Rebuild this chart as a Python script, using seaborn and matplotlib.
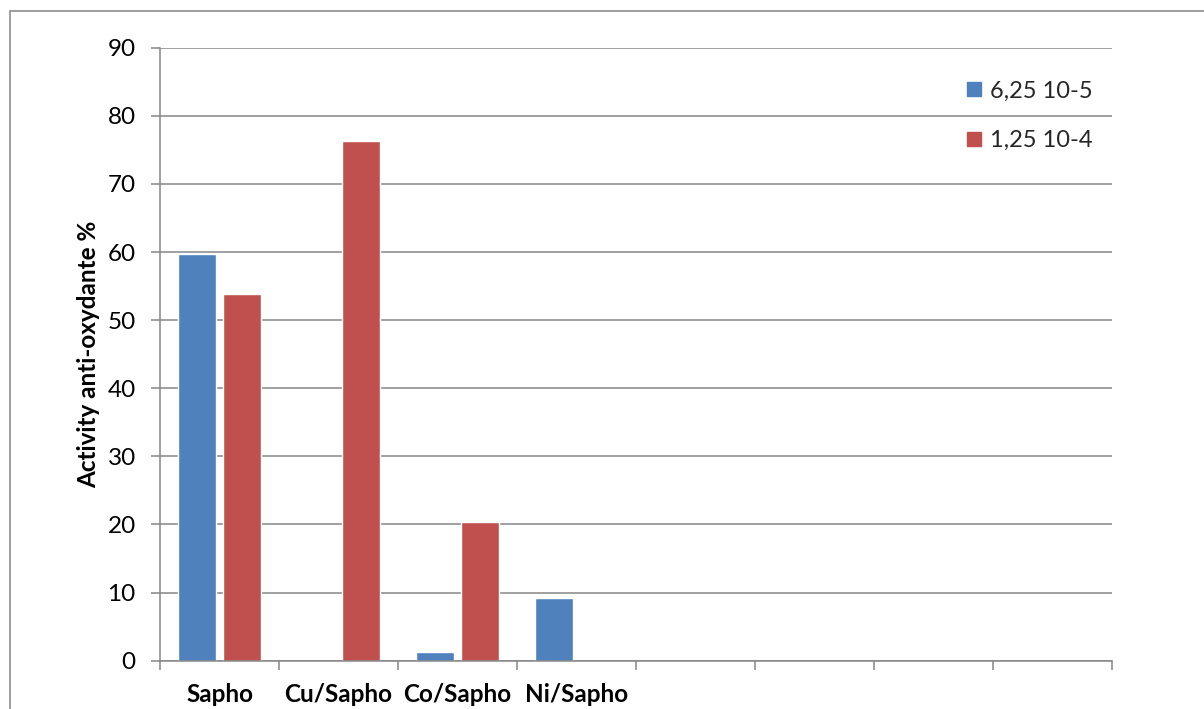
import matplotlib
matplotlib.use("Agg")
import matplotlib.pyplot as plt
from matplotlib.lines import Line2D
from matplotlib.patches import Rectangle
import seaborn as sns
import pandas as pd
import numpy as np

# Data
categories = ["Sapho", "Cu/Sapho", "Co/Sapho", "Ni/Sapho", "", " ", "  ", "   "]
series_names = ["6,25 10-5", "1,25 10-4"]
values_low = [59.7, np.nan, 1.3, 9.25, np.nan, np.nan, np.nan, np.nan]
values_high = [53.8, 76.3, 20.3, np.nan, np.nan, np.nan, np.nan, np.nan]
y_ticks = list(range(0, 91, 10))
y_label = "Activity anti-oxydante %"

colors = ["#4F81BD", "#C0504D"]
grid_col = "#868686"

df = pd.DataFrame({
    "cat": categories * 2,
    "serie": [series_names[0]] * len(categories) + [series_names[1]] * len(categories),
    "val": values_low + values_high,
})

sns.set_theme(style="white")
plt.rcParams["font.family"] = ["Lato", "DejaVu Sans"]

fig = plt.figure(figsize=(12.04, 7.09), dpi=100)
ax = fig.add_axes([160 / 1204, 1 - 660.7 / 709, (1112 - 160) / 1204, (660.7 - 47.7) / 709])

sns.barplot(data=df, x="cat", y="val", hue="serie", order=categories,
            hue_order=series_names, palette=colors, width=0.756, gap=0.177,
            saturation=1, legend=False, ax=ax, zorder=3)

ax.set_xlim(-0.5, len(categories) - 0.5)
ax.set_ylim(0, 90)
ax.set_yticks(y_ticks)
ax.set_yticklabels([str(t) for t in y_ticks], fontsize=17.5, color="black")

# category labels at centres, tick marks at category boundaries
ax.set_xticks(range(len(categories)))
ax.set_xticklabels(categories, fontsize=17.5, fontweight="bold", color="black")
ax.set_xticks(np.arange(-0.5, len(categories), 1), minor=True)
ax.tick_params(axis="x", which="major", length=0, pad=16)
ax.tick_params(axis="x", which="minor", length=6.5, width=1.1, color=grid_col, direction="out", bottom=True)
ax.tick_params(axis="y", which="major", length=6.5, width=1.1, color=grid_col, direction="out", left=True, pad=11)

ax.yaxis.grid(True, color=grid_col, linewidth=1.1, zorder=0)
ax.set_axisbelow(True)
for side in ["top", "right"]:
    ax.spines[side].set_visible(False)
for side in ["left", "bottom"]:
    ax.spines[side].set_color(grid_col)
    ax.spines[side].set_linewidth(1.1)
    ax.spines[side].set_zorder(4)

ax.set_xlabel("")
ax.set_ylabel(y_label, fontsize=17.5, fontweight="bold", color="black", labelpad=5)

handles = [Line2D([], [], marker="s", linestyle="none", markersize=10.5,
                  markerfacecolor=c, markeredgecolor=c) for c in colors]
leg = ax.legend(handles, series_names, loc="upper left",
                bbox_to_anchor=(955 / 1204, 1 - 71 / 709), bbox_transform=fig.transFigure,
                frameon=False, fontsize=17, handlelength=0.8, handletextpad=0.3,
                labelspacing=1.2, borderaxespad=0)

# outer chart border
fig.patches.append(Rectangle((10 / 1204, -0.05), 1.2, 1 - 11 / 709 + 0.05,
                             transform=fig.transFigure, fill=False,
                             edgecolor="#8c8c8c", linewidth=1.2))

fig.savefig("out.png", dpi=100)
